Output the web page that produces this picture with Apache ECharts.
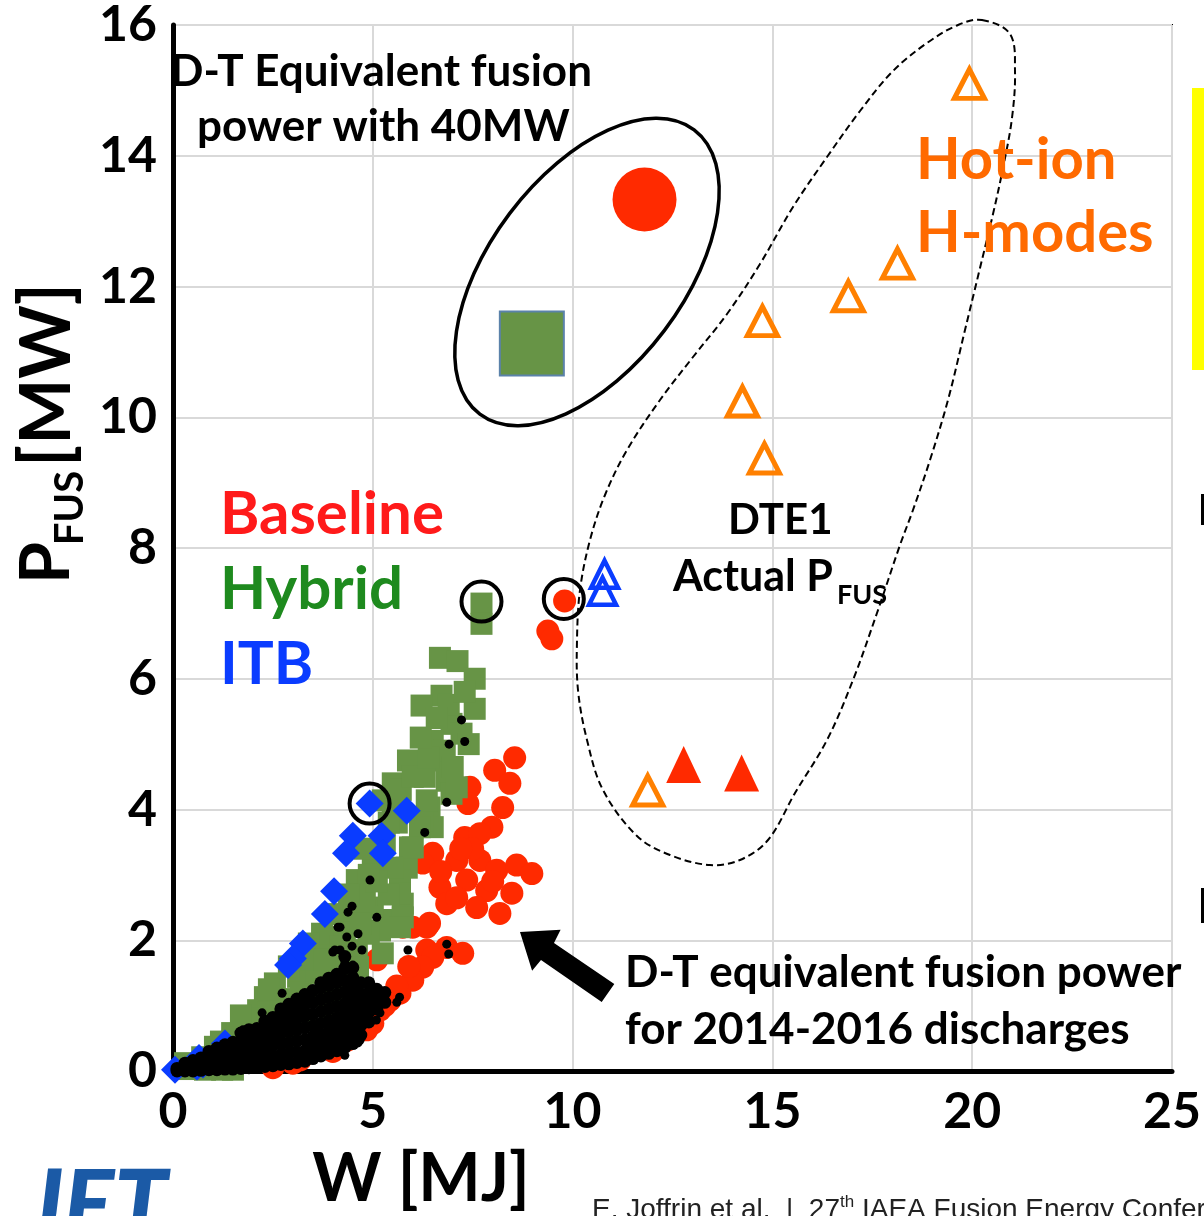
<!DOCTYPE html>
<html><head><meta charset="utf-8">
<script src="https://cdn.jsdelivr.net/npm/echarts@6/dist/echarts.min.js"></script>
<style>html,body{margin:0;padding:0;background:#fff;overflow:hidden}#c{width:1204px;height:1216px;}</style>
</head><body><div id="c"></div>
<script>
// ---------- data ----------
const xTicks = [0, 5, 10, 15, 20, 25];
const yTicks = [0, 2, 4, 6, 8, 10, 12, 14, 16];

const baseline = [
 [9.8,7.19],[9.38,6.73],[9.48,6.61],[8.55,4.79],[8.05,4.6],[8.43,4.4],[7.43,4.34],[7.38,4.09],[8.25,4.03],
 [7.98,3.73],[7.3,3.57],[7.68,3.63],[6.5,3.33],[7.1,3.22],[7.68,3.22],[8.1,3.07],[8.6,3.15],[8.98,3.02],
 [6.68,2.81],[7.35,2.92],[7.85,2.76],[8.48,2.72],[6.85,2.56],[7.6,2.5],[8.18,2.41],[6.42,2.26],[6.0,2.2],
 [6.35,1.85],[7.25,1.8],[6.85,1.89],[6.5,1.74],[6.25,1.59],[6.0,1.39],[5.68,1.19],[5.43,1.08],[5.18,0.93],
 [5.0,0.73],[4.75,0.82],[4.35,0.58],[3.85,0.43],[3.18,0.17],[5.1,1.7],[6.35,2.2],[5.75,2.2],[6.25,3.18],
 [1.93,0.63],[4.85,0.63],[4.35,0.47],[3.0,0.12],[2.5,0.05],[4.0,0.3],[5.3,1.0],[5.6,1.3],[5.9,1.6],
 [7.1,2.65],[6.7,3.05],[7.5,3.4],[8.0,2.9],[7.2,3.4]
];
const hybrid = [
 [7.72,7.15],[7.72,6.84],[6.68,6.32],[7.12,6.27],[7.55,6.0],[6.72,5.74],[6.22,5.59],[7.55,5.54],[6.97,5.31],
 [7.22,5.16],[5.88,4.75],[6.68,4.75],[6.85,4.44],[6.97,4.24],[6.42,4.03],[6.5,3.73],[6.0,3.42],[5.85,3.11],
 [5.68,2.92],[5.75,2.56],[5.35,2.31],[6.25,3.83],[7.1,4.34],[6.35,4.14],[5.25,4.14],[6.18,3.73],[5.93,3.42],
 [5.5,3.11],[4.6,2.92],[5.68,2.72],[5.0,2.5],[5.75,2.35],[4.35,2.31],[5.18,2.15],[3.93,2.05],[3.68,1.89],
 [4.6,1.85],[5.25,1.8],[3.73,2.1],[3.55,1.69],[3.13,1.44],[2.55,1.34],[2.3,1.13],[2.13,0.93],[1.8,0.67],
 [1.48,0.58],[1.05,0.37],[0.73,0.21],[0.3,0.12],[1.23,0.02],[0.8,0.02],[4.48,2.46],[4.3,2.0],[4.63,1.59],
 [4.48,1.13],[3.98,0.93],[3.3,0.78],[2.8,0.58],[2.3,0.43],[5.68,2.2],[6.5,5.05],[6.8,4.9],[6.3,4.5],
 [5.6,3.8],[5.3,3.5],[5.0,3.2],[4.8,2.7],[5.4,2.7],[4.9,2.1],[4.1,1.6],[3.9,1.3],[3.5,1.15],[3.0,1.0],
 [2.6,0.85],[2.0,0.45],[1.6,0.25],[2.9,1.6],[3.4,1.95],[4.0,2.4],[4.4,1.4],
 [1.0,0.2],[1.4,0.35],[1.9,0.6],[2.4,0.9],[2.7,1.1],[3.2,1.2],[3.6,1.5],[4.2,1.9],[3.3,1.7],[2.0,0.8],
 [1.2,0.45],[0.5,0.05],[1.5,0.02],[0.4,0.03],[2.4,1.25],[1.7,0.85],[3.8,1.7],[5.1,2.9],[5.5,4.4],[4.9,3.0],
 [4.8,3.4],[5.5,4.0],[5.7,4.3],[6.0,4.5],[6.4,4.8],[6.2,5.1],[6.9,5.6],[7.3,5.8],[6.6,5.4],[7.4,5.0],
 [7.0,4.65],[5.4,3.8],[4.4,2.7],[4.7,2.25]
];
const itb = [
 [4.92,4.09],[5.85,3.98],[4.5,3.6],[5.22,3.6],[4.33,3.33],[5.25,3.33],[4.03,2.75],[3.25,1.95],[3.0,1.72],
 [2.88,1.62],[0.05,0.02],[0.6,0.07],[0.75,0.1],[3.8,2.4],[1.3,0.42],[0.65,0.2]
];
// dense cloud of 2014-2016 discharges: [W, list of P values]
const blackColumns = [
 [0.1,[0.0,0.04]],[0.3,[0.0,0.06,0.12]],[0.5,[0.0,0.08,0.16]],[0.7,[0.01,0.1,0.2]],
 [0.9,[0.02,0.12,0.22,0.3]],[1.1,[0.02,0.13,0.24,0.35]],[1.3,[0.03,0.15,0.27,0.4]],[1.5,[0.03,0.16,0.3,0.44]],
 [1.7,[0.04,0.17,0.31,0.45,0.58]],[1.9,[0.05,0.19,0.33,0.48,0.63]],[2.1,[0.06,0.2,0.35,0.5,0.65]],
 [2.3,[0.07,0.22,0.37,0.52,0.67,0.76]],[2.5,[0.08,0.23,0.39,0.55,0.7,0.82]],
 [2.7,[0.1,0.25,0.41,0.57,0.73,0.88,0.95]],[2.9,[0.11,0.27,0.43,0.6,0.76,0.91,1.02]],
 [3.1,[0.13,0.29,0.46,0.63,0.8,0.96,1.1]],[3.3,[0.15,0.31,0.48,0.66,0.84,1.01,1.17]],
 [3.5,[0.19,0.35,0.52,0.69,0.87,1.05,1.23]],[3.7,[0.23,0.39,0.56,0.73,0.91,1.09,1.27,1.35]],
 [3.9,[0.27,0.43,0.6,0.77,0.95,1.13,1.31,1.42]],[4.1,[0.31,0.47,0.64,0.81,0.99,1.17,1.35,1.48]],
 [4.3,[0.36,0.52,0.69,0.86,1.03,1.21,1.39,1.57,1.75]],[4.5,[0.42,0.58,0.75,0.92,1.09,1.26,1.43,1.58]],
 [4.7,[0.55,0.7,0.86,1.02,1.18,1.35]],[4.9,[0.75,0.9,1.05,1.2,1.35]],[5.1,[0.95,1.1,1.25]],[5.3,[1.05,1.2]]
];
const blackScattered = [
 [7.22,5.37],[6.91,5.0],[7.3,5.04],[6.85,4.11],[6.3,3.65],[4.93,2.92],[5.1,2.35],[4.38,2.43],[4.48,2.52],
 [4.18,2.2],[4.63,2.1],[4.48,1.91],[4.73,1.85],[5.88,1.85],[6.85,1.94],[6.9,1.79],[5.6,1.05],[5.67,1.13],
 [4.3,0.24],[2.73,1.19],[4.18,1.85],[4.0,1.82],[4.05,1.85],[4.3,1.65],[4.5,1.62],[2.23,0.89],[1.75,0.63],
 [4.38,0.44],[4.63,0.43],[5.18,0.89],[5.09,0.78],[4.9,0.73],[4.68,0.47],[4.43,0.45],[4.13,2.2],[4.35,2.05]
];
const dtEquivBaseline = [[11.8,13.33]];
const dtEquivHybrid = [[8.98,11.13]];
const hotIonOpen = [[19.93,15.1],[18.13,12.35],[16.9,11.85],[14.75,11.47],[14.25,10.24],[14.8,9.37],[11.88,4.29]];
const dte1Baseline = [[12.78,4.69],[14.23,4.56]];
const dte1Itb = [[10.8,7.6],[10.75,7.34]];
const highlighted = [[7.72,7.18],[9.78,7.22],[4.92,4.09]];

// ---------- chart ----------
const blackDense = [];
blackColumns.forEach(([x, ys]) => ys.forEach(y => blackDense.push([x, y])));

const F = 'Lato, "Open Sans", sans-serif';
const NARROW = '"Liberation Sans Narrow", "Liberation Sans", sans-serif';
function txt(text, x, y, size, color, extra) {
  return Object.assign({
    type: 'text', x: x, y: y, z: 100,
    style: Object.assign({ text: text, font: 'bold ' + size + 'px ' + F, fill: color,
      textAlign: 'left', textVerticalAlign: 'middle' }, (extra && extra.style) || {})
  }, extra && extra.el || {});
}

const chart = echarts.init(document.getElementById('c'), null, { renderer: 'canvas' });
const op = { opacity: 1 };
const option = {
  animation: false,
  backgroundColor: '#fff',
  grid: { left: 173, right: 31, top: 23, bottom: 145, show: true, borderColor: '#000', borderWidth: 2, backgroundColor: 'transparent' },
  xAxis: {
    type: 'value', min: xTicks[0], max: xTicks[xTicks.length - 1], interval: xTicks[1] - xTicks[0],
    axisLine: { show: true, onZero: false, lineStyle: { color: '#000', width: 5 } },
    axisTick: { show: false },
    axisLabel: { color: '#000', fontFamily: F, fontWeight: 'bold', fontSize: 50, margin: 16 },
    splitLine: { show: true, lineStyle: { color: '#d9d9d9', width: 2 } }
  },
  yAxis: {
    type: 'value', min: yTicks[0], max: yTicks[yTicks.length - 1], interval: yTicks[1] - yTicks[0],
    axisLine: { show: true, onZero: false, lineStyle: { color: '#000', width: 5 } },
    axisTick: { show: false },
    axisLabel: { color: '#000', fontFamily: F, fontWeight: 'bold', fontSize: 50, margin: 16 },
    splitLine: { show: true, lineStyle: { color: '#d9d9d9', width: 2 } }
  },
  series: [
    { name: 'Baseline', type: 'scatter', data: baseline, symbol: 'circle', symbolSize: 23, z: 2,
      itemStyle: Object.assign({ color: '#ff2a00' }, op) },
    { name: 'Hybrid', type: 'scatter', data: hybrid, symbol: 'rect', symbolSize: 22, z: 3,
      itemStyle: Object.assign({ color: '#679446' }, op) },
    { name: 'ITB', type: 'scatter', data: itb, symbol: 'diamond', symbolSize: 28, z: 4,
      itemStyle: Object.assign({ color: '#0a3cff' }, op) },
    { name: '2014-2016 dense', type: 'scatter', data: blackDense, symbol: 'circle', symbolSize: 13, z: 5,
      itemStyle: Object.assign({ color: '#000' }, op) },
    { name: '2014-2016', type: 'scatter', data: blackScattered, symbol: 'circle', symbolSize: 9, z: 5,
      itemStyle: Object.assign({ color: '#000' }, op) },
    { name: 'DT eq baseline', type: 'scatter', data: dtEquivBaseline, symbol: 'circle', symbolSize: 64, z: 4,
      itemStyle: Object.assign({ color: '#ff2a00' }, op) },
    { name: 'DT eq hybrid', type: 'scatter', data: dtEquivHybrid, symbol: 'rect', symbolSize: 64, z: 4,
      itemStyle: Object.assign({ color: '#679446', borderColor: '#5b82aa', borderWidth: 2 }, op) },
    { name: 'Hot-ion', type: 'scatter', data: hotIonOpen, symbol: 'triangle', symbolSize: [30, 29], z: 6,
      itemStyle: Object.assign({ color: 'rgba(255,255,255,0)', borderColor: '#ff8000', borderWidth: 5 }, op) },
    { name: 'DTE1 baseline', type: 'scatter', data: dte1Baseline, symbol: 'triangle', symbolSize: [35, 37], z: 6,
      itemStyle: Object.assign({ color: '#ff2a00' }, op) },
    { name: 'DTE1 ITB', type: 'scatter', data: dte1Itb, symbol: 'triangle', symbolSize: [27, 27], z: 6,
      itemStyle: Object.assign({ color: 'rgba(255,255,255,0)', borderColor: '#0a3cff', borderWidth: 4.5 }, op) },
    { name: 'highlight', type: 'scatter', data: highlighted, symbol: 'circle', symbolSize: 40, z: 7,
      itemStyle: Object.assign({ color: 'rgba(255,255,255,0)', borderColor: '#000', borderWidth: 4 }, op) }
  ],
  graphic: [
    // solid ellipse round the D-T equivalent points
    { type: 'ellipse', x: 587, y: 272, rotation: 53 * Math.PI / 180, z: 50,
      shape: { cx: 0, cy: 0, rx: 178, ry: 97 },
      style: { fill: 'none', stroke: '#000', lineWidth: 3.5 } },
    // dashed DTE1 envelope
    { type: 'polygon', z: 50,
      shape: { smooth: 0.35, points: [
        [982,20],[1010,34],[1015,71],[1012,118],[1003,168],[993,214],[980,268],[965,330],[948,400],[930,460],
        [913,510],[900,545],[877,613],[853,680],[827,740],[795,793],[768,840],[740,860],[710,865],[670,855],
        [637,836],[603,790],[587,740],[578,690],[577,640],[580,590],[590,540],[605,495],[627,450],[660,400],
        [693,357],[727,314],[760,264],[793,207],[827,157],[860,111],[893,71],[927,43],[958,25]] },
      style: { fill: 'none', stroke: '#000', lineWidth: 2, lineDash: [7, 4] } },
    // arrow
    { type: 'polygon', z: 50,
      shape: { points: [[520,932],[560.6,929.7],[554,943],[614.3,984.0],[601.7,1002.0],[541,960],[532.1,970.8]] },
      style: { fill: '#000' } },
    // texts
    txt('D-T Equivalent fusion', 170, 72, 44, '#000'),
    txt('power with 40MW', 197, 127, 44, '#000'),
    txt('Hot-ion', 916, 160, 58, '#ff6a00'),
    txt('H-modes', 916, 233, 58, '#ff6a00'),
    txt('Baseline', 220, 515, 60, '#ff1a1a'),
    txt('Hybrid', 220, 590, 60, '#1e8a1e'),
    txt('ITB', 220, 665, 60, '#0a3cff'),
    txt('DTE1', 728, 520, 42, '#000'),
    txt('Actual P', 673, 577, 43, '#000'),
    txt('FUS', 837, 595, 27, '#000'),
    txt('D-T equivalent fusion power', 625, 973, 44, '#000'),
    txt('for 2014-2016 discharges', 625, 1030, 44, '#000'),
    // axis names
    txt('W [MJ]', 421, 1180, 66, '#000', { style: { textAlign: 'center' } }),
    txt('P', 47, 563, 68, '#000', { el: { rotation: Math.PI / 2 }, style: { textAlign: 'center' } }),
    txt('FUS', 70, 508, 40, '#000', { el: { rotation: Math.PI / 2 }, style: { textAlign: 'center' } }),
    txt('[MW]', 47, 375, 70, '#000', { el: { rotation: Math.PI / 2 }, style: { textAlign: 'center' } }),
    // footer
    { type: 'text', x: 24, y: 1160, z: 100,
      style: { text: 'JET', font: 'italic 900 95px ' + F, fill: '#1b5aa6', textAlign: 'left', textVerticalAlign: 'top' } },
    // right-edge fragments
    { type: 'rect', z: 100, shape: { x: 1192, y: 88, width: 12, height: 282 }, style: { fill: '#ffff00' } },
    { type: 'rect', z: 100, shape: { x: 1201, y: 494, width: 4, height: 31 }, style: { fill: '#000' } },
    { type: 'rect', z: 100, shape: { x: 1201, y: 888, width: 4, height: 35 }, style: { fill: '#000' } }
  ]
};

// citation with superscript, laid out by measuring text widths
(function () {
  const c = document.createElement('canvas').getContext('2d');
  const big = '28px ' + NARROW, small = '17px ' + NARROW;
  c.font = big;
  const w1 = c.measureText('E. Joffrin et al.  |  27').width;
  c.font = small;
  const w2 = c.measureText('th').width;
  option.graphic.push(
    { type: 'text', x: 592, y: 1196, z: 100, style: { text: 'E. Joffrin et al.  |  27', font: big, fill: '#222', textAlign: 'left', textVerticalAlign: 'top' } },
    { type: 'text', x: 592 + w1, y: 1194, z: 100, style: { text: 'th', font: small, fill: '#222', textAlign: 'left', textVerticalAlign: 'top' } },
    { type: 'text', x: 592 + w1 + w2, y: 1196, z: 100, style: { text: ' IAEA Fusion Energy Conference', font: big, fill: '#222', textAlign: 'left', textVerticalAlign: 'top' } }
  );
})();
chart.setOption(option);
</script>
</body></html>
